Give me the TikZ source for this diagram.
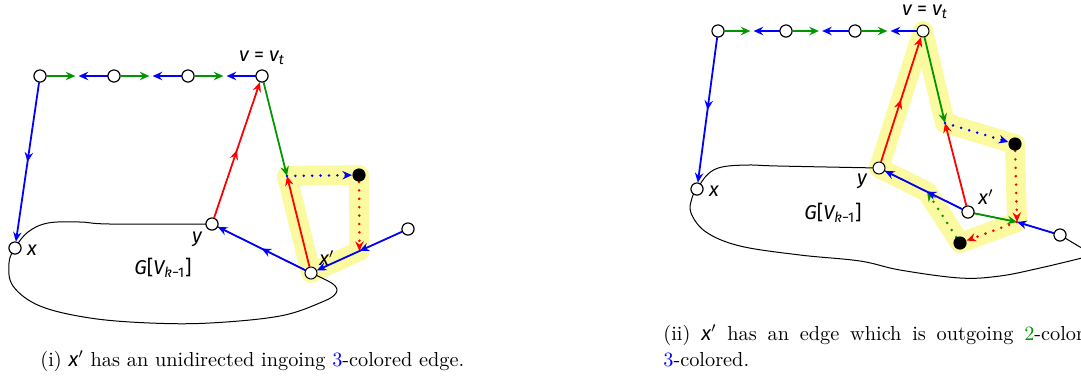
\documentclass[tikz,border=0pt]{standalone}
\usepackage{fontspec}
\newfontfamily\lblfont{Fira Sans}
\usetikzlibrary{arrows.meta,calc,decorations.markings}

\definecolor{grn}{RGB}{0,150,0}
\definecolor{hlyellow}{RGB}{252,250,160}
\newcommand\lbl[1]{{\lblfont\itshape #1}}

\begin{document}
\begin{tikzpicture}[
        x=0.5pt, y=-0.5pt,
        vtx/.style={circle, draw=black, fill=white, line width=0.5pt, minimum size=6pt, inner sep=0pt},
        bdot/.style={circle, fill=black, minimum size=6.6pt, inner sep=0pt},
        darr/.style={line width=0.9pt, -{Stealth[length=4.8pt,width=4.2pt,inset=1.6pt]}},
        dotarr/.style={darr, line width=1.4pt, line cap=round, dash pattern=on 0pt off 4.2pt},
        midarr/.style={postaction={decorate}, decoration={markings,
            mark=at position #1 with {\arrow{Stealth[length=4.8pt,width=4.2pt,inset=1.6pt]}}}},
        midarr/.default=0.5,
        hl/.style={draw=hlyellow, line width=10pt, line join=round, line cap=round},
        blob/.style={draw=black, line width=0.5pt},
        lab/.style={inner sep=0pt, font=\lblfont\itshape},
        captxt/.style={inner sep=0pt, font=\fontsize{10.15}{12}\selectfont}
    ]

    \useasboundingbox (0,0) rectangle (1081,377);
    \clip (0,0) rectangle (1081,377);

    % ---------- (i) ----------
    \node[vtx] (t1) at (40,76) {};
    \node[vtx] (t2) at (114,76) {};
    \node[vtx] (t3) at (188,76) {};
    \node[vtx] (v) at (262,76) {};
    \node[vtx] (x) at (15,248) {};
    \node[vtx] (y) at (212,224) {};
    \node[vtx] (xp) at (311,273) {};
    \node[vtx] (r) at (408,229) {};
    \node[bdot] (b) at (359,175) {};
    \coordinate (c) at (287,176);
    \coordinate (p) at ($(r)!0.5!(xp)$);

    \draw[hl] (c) -- (b.center) -- (p) -- (xp.center) -- cycle;

    \draw[blob] plot[smooth, tension=0.6] coordinates {(311,273) (333,284) (336,293) (322,302)
        (280,316) (210,323) (150,323) (90,318) (40,306) (13,286) (9,263) (15,248)
        (28,232) (48,223) (80,222) (110,224) (212,224)} -- cycle;

    \foreach \a/\b in {t1/t2, t2/t3, t3/v} {
        \coordinate (m) at ($(\a)!0.5!(\b)$);
        \draw[grn, darr, shorten >=0.8pt] (\a) -- (m);
        \draw[blue, darr, shorten >=0.8pt] (\b) -- (m);
    }
    \draw[blue, darr, midarr] (t1) -- (x);
    \draw[red, darr, midarr] (y) -- (v);
    \draw[grn, darr] (v) -- (c);
    \draw[red, darr] (xp) -- (c);
    \draw[blue, dotarr] (c) -- (b);
    \draw[red, dotarr] (b) -- (p);
    \draw[blue, darr, midarr] (r) -- (xp);
    \draw[blue, darr, midarr] (xp) -- (y);

    \foreach \n in {t1,t2,t3,v,x,y,xp,r} \node[vtx] at (\n) {};
    \node[bdot] at (b) {};

    \node[lab] (vl) at (262,58) {v {\upshape =} v\textsubscript{t}};
    \node[lab] (xl) at (32,250) {x};
    \node[lab] (yl) at (197,239) {y};
    \node[lab] (xpl) at (327,258) {x$'$};
    \node[lab] (gl) at (163,268) {G{\upshape[}V\textsubscript{k{\upshape −1}}{\upshape]}};

    \node[captxt, anchor=base west] (capi) at (40,366)
        {(i) \lbl{x}$'$ has an unidirected ingoing \textcolor{blue}{3}-colored edge.};

    % ---------- (ii) ----------
    \node[vtx] (T1) at (718,31) {};
    \node[vtx] (T2) at (786,31) {};
    \node[vtx] (T3) at (855,31) {};
    \node[vtx] (V) at (923,31) {};
    \node[vtx] (X) at (697,189) {};
    \node[vtx] (Y) at (879,168) {};
    \node[vtx] (XP) at (968,212) {};
    \node[vtx] (R) at (1060,235) {};
    \node[bdot] (B1) at (1015,144) {};
    \node[bdot] (B2) at (960,243) {};
    \coordinate (C) at (945,123);
    \coordinate (P) at (1017,222);
    \coordinate (Q) at ($(XP)!0.46!(Y)$);

    \draw[hl] (Y.center) -- (V.center) -- (C) -- (B1.center) -- (P) -- (B2.center) -- (Q) -- cycle;

    \draw[blob] plot[smooth, tension=0.6] coordinates {(1060,235) (1080,247) (1094,255)
        (1082,258) (1040,268) (1000,276) (960,278) (900,270) (860,261) (800,255)
        (740,246) (706,232) (691,213) (692,198) (697,189) (708,174) (722,167)
        (748,165) (778,166) (879,168)} -- (XP.center) -- (P) -- cycle;

    \foreach \a/\b in {T1/T2, T2/T3, T3/V} {
        \coordinate (m) at ($(\a)!0.5!(\b)$);
        \draw[grn, darr, shorten >=0.8pt] (\a) -- (m);
        \draw[blue, darr, shorten >=0.8pt] (\b) -- (m);
    }
    \draw[blue, darr, midarr] (T1) -- (X);
    \draw[red, darr, midarr] (Y) -- (V);
    \draw[grn, darr] (V) -- (C);
    \draw[red, darr] (XP) -- (C);
    \draw[blue, dotarr] (C) -- (B1);
    \draw[red, dotarr] (B1) -- (P);
    \draw[blue, darr] (R) -- (P);
    \draw[grn, darr] (XP) -- (P);
    \draw[red, dotarr] (P) -- (B2);
    \draw[grn, dotarr] (B2) -- (Q);
    \draw[blue, darr, midarr=0.46] (XP) -- (Y);

    \foreach \n in {T1,T2,T3,V,X,Y,XP,R} \node[vtx] at (\n) {};
    \foreach \n in {B1,B2} \node[bdot] at (\n) {};

    \node[lab] (VL) at (925,12) {v {\upshape =} v\textsubscript{t}};
    \node[lab] (XL) at (714,191) {x};
    \node[lab] (YL) at (862,181) {y};
    \node[lab] (XPL) at (986,197) {x$'$};
    \node[lab] (GL) at (833,213) {G{\upshape[}V\textsubscript{k{\upshape −1}}{\upshape]}};

    \node[captxt, anchor=base west] (capiia) at (663,340)
        {\spaceskip=5.4pt (ii) \lbl{x}$'$ has an edge which is outgoing \textcolor{grn}{2}-colored and};
    \node[captxt, anchor=base west] (capiib) at (663,366)
        {\textcolor{blue}{3}-colored.};
\end{tikzpicture}
\end{document}
